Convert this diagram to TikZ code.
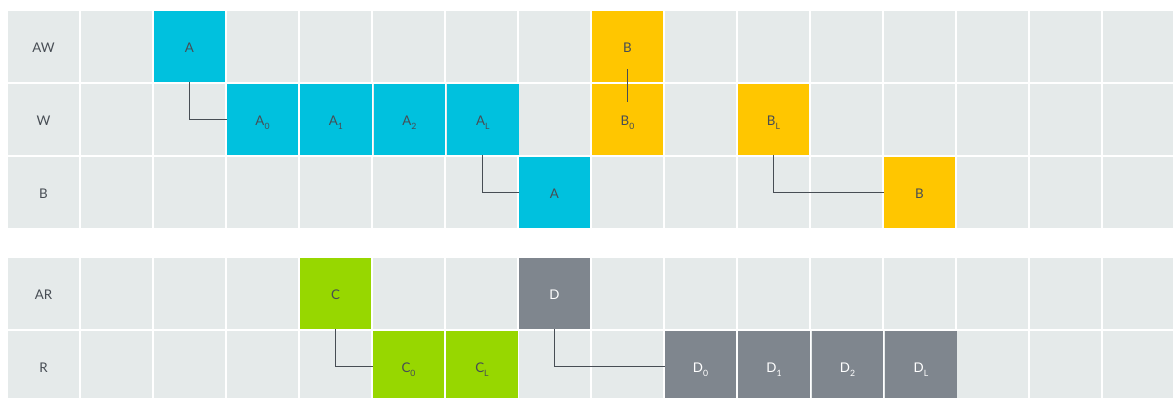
\documentclass[tikz,border=0pt]{standalone}
\usepackage{fontspec}
\setmainfont{Lato}
\usetikzlibrary{positioning}

\definecolor{gridgray}{HTML}{E5EAEA}
\definecolor{acyan}{HTML}{00C1DE}
\definecolor{byellow}{HTML}{FFC600}
\definecolor{cgreen}{HTML}{97D700}
\definecolor{dslate}{HTML}{7F868E}
\definecolor{inkgray}{HTML}{474D54}

\newcommand{\cellsub}[1]{\raisebox{-2.5pt}{\fontsize{6.5}{7}\selectfont #1}}

\tikzset{
  cell/.style={rectangle,fill=gridgray,minimum width=53.6pt,minimum height=53.6pt,inner sep=0pt,text=inkgray,font=\fontsize{10}{12}\selectfont,text height=9.5pt,text depth=0pt},
  acell/.style={cell,fill=acyan},
  bcell/.style={cell,fill=byellow},
  ccell/.style={cell,fill=cgreen},
  dcell/.style={cell,fill=dslate,text=white},
  rowlabel/.style={text=inkgray,font=\fontsize{10}{12}\selectfont,inner sep=0pt,text height=9.5pt,text depth=0pt},
  link/.style={draw=inkgray,line width=0.7pt},
}

\begin{document}
\begin{tikzpicture}[x=0.75pt,y=-0.75pt]
  \useasboundingbox (0,0) rectangle (1173,398);
  % background grid
  \foreach \r/\y in {1/46.5,2/119.5,3/192.5,4/293.5,5/366.5}
    \foreach \c in {0,...,15}
      \node[cell] (g-\r-\c) at (43.5+73*\c,\y) {};
  % row labels
  \node[rowlabel] (lbl-aw) at (g-1-0) {AW};
  \node[rowlabel] (lbl-w) at (g-2-0) {W};
  \node[rowlabel] (lbl-b) at (g-3-0) {B};
  \node[rowlabel] (lbl-ar) at (g-4-0) {AR};
  \node[rowlabel] (lbl-r) at (g-5-0) {R};
  % A
  \node[acell] (aw-a) at (g-1-2) {A};
  \node[acell] (w-a0) at (g-2-3) {A\cellsub{0}};
  \node[acell,right=1.1pt of w-a0] (w-a1) {A\cellsub{1}};
  \node[acell,right=1.1pt of w-a1] (w-a2) {A\cellsub{2}};
  \node[acell,right=1.1pt of w-a2] (w-al) {A\cellsub{L}};
  \node[acell] (b-a) at (g-3-7) {A};
  % B
  \node[bcell] (aw-b) at (g-1-8) {B};
  \node[bcell] (w-b0) at (g-2-8) {B\cellsub{0}};
  \node[bcell] (w-bl) at (g-2-10) {B\cellsub{L}};
  \node[bcell] (b-b) at (g-3-12) {B};
  % C
  \node[ccell] (ar-c) at (g-4-4) {C};
  \node[ccell] (r-c0) at (g-5-5) {C\cellsub{0}};
  \node[ccell,right=1.1pt of r-c0] (r-cl) {C\cellsub{L}};
  % D
  \node[dcell] (ar-d) at (g-4-7) {D};
  \node[dcell] (r-d0) at (g-5-9) {D\cellsub{0}};
  \node[dcell,right=1.1pt of r-d0] (r-d1) {D\cellsub{1}};
  \node[dcell,right=1.1pt of r-d1] (r-d2) {D\cellsub{2}};
  \node[dcell,right=1.1pt of r-d2] (r-dl) {D\cellsub{L}};
  % links
  \draw[link] (aw-a.south) |- (w-a0.west);
  \draw[link] (w-al.south) |- (b-a.west);
  \draw[link] ([yshift=-16.9pt]aw-b.center) -- ([yshift=13pt]w-b0.center);
  \draw[link] (w-bl.south) |- (b-b.west);
  \draw[link] (ar-c.south) |- (r-c0.west);
  \draw[link] (ar-d.south) |- (r-d0.west);
\end{tikzpicture}
\end{document}
